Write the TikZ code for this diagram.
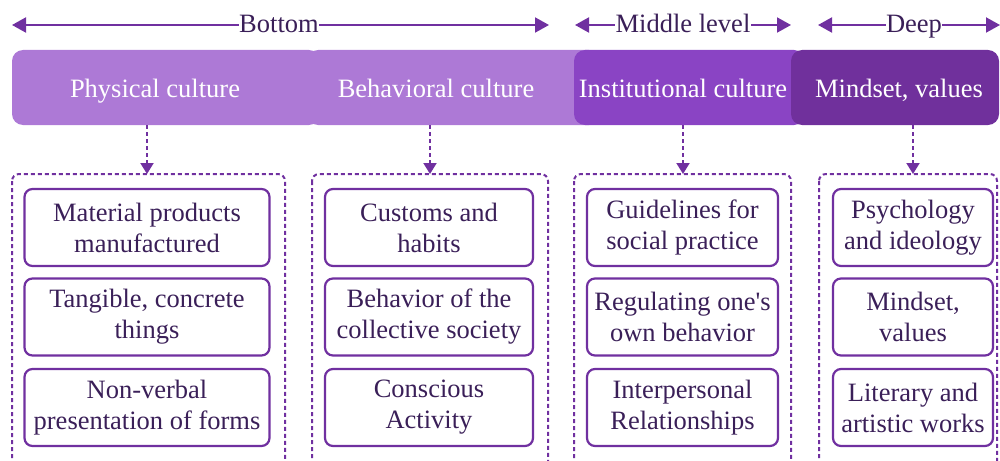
\documentclass[tikz,border=0pt]{standalone}
\usepackage{fontspec}
\setmainfont{Liberation Serif}
\newfontfamily\tms{Liberation Serif}
\usetikzlibrary{arrows.meta}
\definecolor{lightp}{HTML}{AD79D6}
\definecolor{midp}{HTML}{8A44C4}
\definecolor{deepp}{HTML}{70309C}
\definecolor{linep}{HTML}{7030A0}
\definecolor{txtp}{HTML}{3A1F58}
\tikzset{
  band/.style={rounded corners=11pt, draw=none},
  head/.style={text=white, font=\tms\fontsize{26.5}{30}\selectfont, anchor=base},
  span/.style={draw=linep, line width=2pt, {Triangle[length=14pt,width=15pt]}-{Triangle[length=14pt,width=15pt]}},
  lab/.style={text=txtp, font=\tms\fontsize{26.5}{30}\selectfont, fill=white, inner sep=0.5pt, anchor=base},
  grp/.style={draw=linep, line width=2pt, dash pattern=on 4pt off 3pt, rounded corners=7pt},
  item/.style={draw=linep, line width=2.2pt, rounded corners=8pt, text=txtp, align=center, font=\tms\fontsize{26.5}{31}\selectfont, inner sep=0pt},
  down/.style={draw=linep, line width=2pt, dash pattern=on 4pt off 3pt, -{Triangle[length=11pt,width=13pt]}}
}
\begin{document}
\begin{tikzpicture}[x=1pt,y=-1pt]
\useasboundingbox (0,0) rectangle (1000,460);
% header band
\fill[lightp, band] (12,50) rectangle (320,125);
\fill[lightp, band] (307,50) rectangle (600,125);
\fill[midp, band] (574,50) rectangle (805,125);
\fill[deepp, band] (791,50) rectangle (999,125);
\node[head] (h1) at (155,97) {Physical culture};
\node[head] (h2) at (436,97) {Behavioral culture};
\node[head] (h3) at (683,97) {Institutional culture};
\node[head] (h4) at (899,97) {Mindset, values};
% top level arrows
\coordinate (b1) at (12,25); \coordinate (b2) at (549,25);
\draw[span] (b1) -- (b2);
\node[lab] (lb) at (279,33) {Bottom};
\coordinate (m1) at (575,25); \coordinate (m2) at (791,25);
\draw[span] (m1) -- (m2);
\node[lab] (lm) at (683,33) {Middle level};
\coordinate (d1) at (818,25); \coordinate (d2) at (1000,25);
\draw[span] (d1) -- (d2);
\node[lab] (ld) at (914,33) {Deep};
% groups
\draw[grp] (12,174) rectangle (285,470);
\draw[grp] (312,174) rectangle (548,470);
\draw[grp] (574,174) rectangle (791,470);
\draw[grp] (819,174) rectangle (997,470);
\coordinate (g1) at (147,174); \coordinate (g2) at (430,174);
\coordinate (g3) at (683,174); \coordinate (g4) at (913,174);
\coordinate (s1) at (147,125); \coordinate (s2) at (430,125);
\coordinate (s3) at (683,125); \coordinate (s4) at (913,125);
\draw[down] (s1) -- (g1);
\draw[down] (s2) -- (g2);
\draw[down] (s3) -- (g3);
\draw[down] (s4) -- (g4);
% items
\newcommand{\itm}[6]{\node[item, minimum width=#3pt, minimum height=77pt] (#1) at (#2,#4) {#5\\#6};}
\itm{a1}{147}{245}{227.5}{Material products}{manufactured}
\itm{a2}{147}{245}{317}{Tangible, concrete}{things}
\itm{a3}{147}{245}{407.5}{Non-verbal}{presentation of forms}
\itm{b1i}{429}{208}{227.5}{Customs and}{habits}
\itm{b2i}{429}{208}{317}{Behavior of the}{collective society}
\itm{b3i}{429}{208}{407.5}{Conscious}{Activity}
\itm{c1}{682.5}{191}{227.5}{Guidelines for}{social practice}
\itm{c2}{682.5}{191}{317}{Regulating one's}{own behavior}
\itm{c3}{682.5}{191}{407.5}{Interpersonal}{Relationships}
\itm{e1}{913}{160}{227.5}{Psychology}{and ideology}
\itm{e2}{913}{160}{317}{Mindset,}{values}
\itm{e3}{913}{160}{407.5}{Literary and}{artistic works}
\end{tikzpicture}
\end{document}
